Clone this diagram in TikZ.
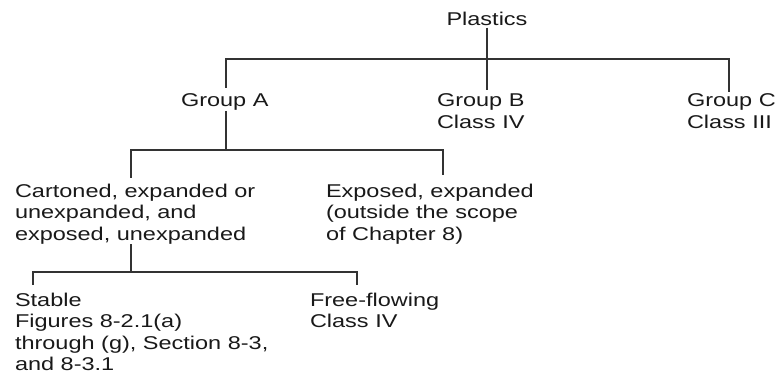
\documentclass[tikz,border=0pt]{standalone}
\usepackage{fontspec}
\setmainfont[FakeStretch=1.27]{Liberation Sans}
\begin{document}
\begin{tikzpicture}[x=1pt,y=-1pt,
  lbl/.style={inner sep=0pt, outer sep=0pt, align=left, anchor=north west,
    font=\fontsize{18.5}{21.5}\selectfont, text=black!90},
  conn/.style={line width=1.2pt, draw=black!80}]
\useasboundingbox (0,0) rectangle (776,379);
% nodes
\node[lbl, anchor=north] (plastics) at (487,12) {Plastics};
\node[lbl] (groupA) at (181,94) {Group A};
\node[lbl] (groupB) at (437,94) {Group B\\Class IV};
\node[lbl] (groupC) at (687,94) {Group C\\Class III};
\node[lbl] (carton) at (15,184) {Cartoned, expanded or\\unexpanded, and\\exposed, unexpanded};
\node[lbl] (exposed) at (326,184) {Exposed, expanded\\(outside the scope\\of Chapter 8)};
\node[lbl] (stable) at (15,293) {Stable\\Figures 8-2.1(a)\\through (g), Section 8-3,\\and 8-3.1};
\node[lbl] (free) at (310,293) {Free-flowing\\Class IV};
% junction coordinates
\coordinate (bus1) at (0,59);
\coordinate (jA) at (226,59);
\coordinate (jC) at (729,59);
\coordinate (bus2) at (0,150);
\coordinate (cA) at (131,150);
\coordinate (cB) at (443,150);
\coordinate (bus3) at (0,272);
\coordinate (sA) at (33,272);
\coordinate (sB) at (357,272);
% level 1
\draw[conn, shorten <=2pt, shorten >=4pt] (plastics.south) -- (plastics.south |- groupB.north);
\draw[conn, shorten <=6pt, shorten >=2pt] (jA |- groupA.north) -- (jA) -- (jC) -- (jC |- groupC.north);
% level 2
\draw[conn] (jA |- groupA.south) -- (jA |- bus2);
\draw[conn, shorten <=6pt, shorten >=9pt] (cA |- carton.north) -- (cA) -- (cB) -- (cB |- exposed.north);
% level 3
\draw[conn] (cA |- carton.south) -- (cA |- bus3);
\draw[conn, shorten <=8pt, shorten >=8pt] (sA |- stable.north) -- (sA) -- (sB) -- (sB |- free.north);
\end{tikzpicture}
\end{document}
